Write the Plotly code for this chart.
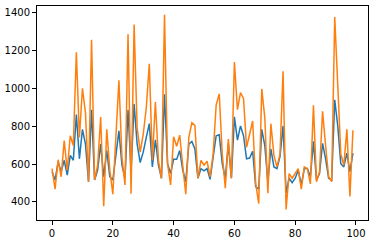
import plotly.graph_objects as go

# index along the x axis
idx = list(range(100))

# first series (blue)
blue_vals = [559, 516, 611, 559, 620, 542, 646, 620, 862, 628,
             784, 706, 507, 888, 516, 568, 706, 533, 672, 533,
             516, 646, 776, 594, 525, 888, 560, 918, 706, 608,
             663, 741, 814, 585, 729, 594, 525, 970, 602, 550,
             625, 625, 672, 568, 507, 706, 720, 680, 525, 576,
             564, 576, 519, 637, 750, 755, 602, 525, 706, 525,
             850, 727, 802, 750, 628, 632, 668, 481, 467, 784,
             698, 507, 680, 585, 576, 641, 802, 447, 525, 502,
             525, 568, 490, 576, 576, 533, 720, 516, 550, 710,
             628, 525, 516, 940, 802, 602, 585, 658, 560, 658]

# second series (orange)
orange_vals = [576, 467, 623, 533, 724, 568, 750, 698, 1192, 741,
               1001, 871, 507, 1258, 516, 594, 849, 377, 784, 568,
               441, 741, 1044, 637, 490, 1287, 443, 1339, 793, 663,
               758, 897, 1131, 620, 928, 620, 525, 1391, 602, 490,
               745, 694, 753, 594, 441, 741, 819, 805, 525, 620,
               594, 616, 533, 654, 914, 972, 654, 472, 733, 525,
               1140, 888, 979, 946, 689, 758, 828, 498, 391, 998,
               845, 446, 814, 646, 585, 654, 1091, 360, 550, 525,
               550, 576, 467, 585, 576, 495, 911, 507, 559, 880,
               698, 533, 507, 1379, 1018, 654, 594, 784, 429, 779]

x_ticks = [0, 20, 40, 60, 80, 100]
y_ticks = [400, 600, 800, 1000, 1200, 1400]

fig = go.Figure()
fig.add_trace(go.Scatter(x=idx, y=blue_vals, mode='lines',
                         line=dict(color='#1f77b4', width=1.5)))
fig.add_trace(go.Scatter(x=idx, y=orange_vals, mode='lines',
                         line=dict(color='#ff7f0e', width=1.5)))

axis_style = dict(showgrid=False, zeroline=False, showline=True, mirror=True,
                  linecolor='black', linewidth=1, ticks='outside', ticklen=4,
                  tickcolor='black', tickfont=dict(family='DejaVu Sans', size=10, color='black'))

fig.update_xaxes(range=[-4.95, 103.95], tickvals=x_ticks, **axis_style)
fig.update_yaxes(range=[304, 1437], tickvals=y_ticks, **axis_style)

fig.update_layout(width=374, height=244, showlegend=False,
                  margin=dict(l=34, r=5, t=6, b=20),
                  plot_bgcolor='white', paper_bgcolor='white')

# drop the default page margin so the figure sits at the window's corner
fig.write_html("out.html", config={'displayModeBar': False},
               post_script="document.body.style.margin='0';document.body.style.overflow='hidden';")
